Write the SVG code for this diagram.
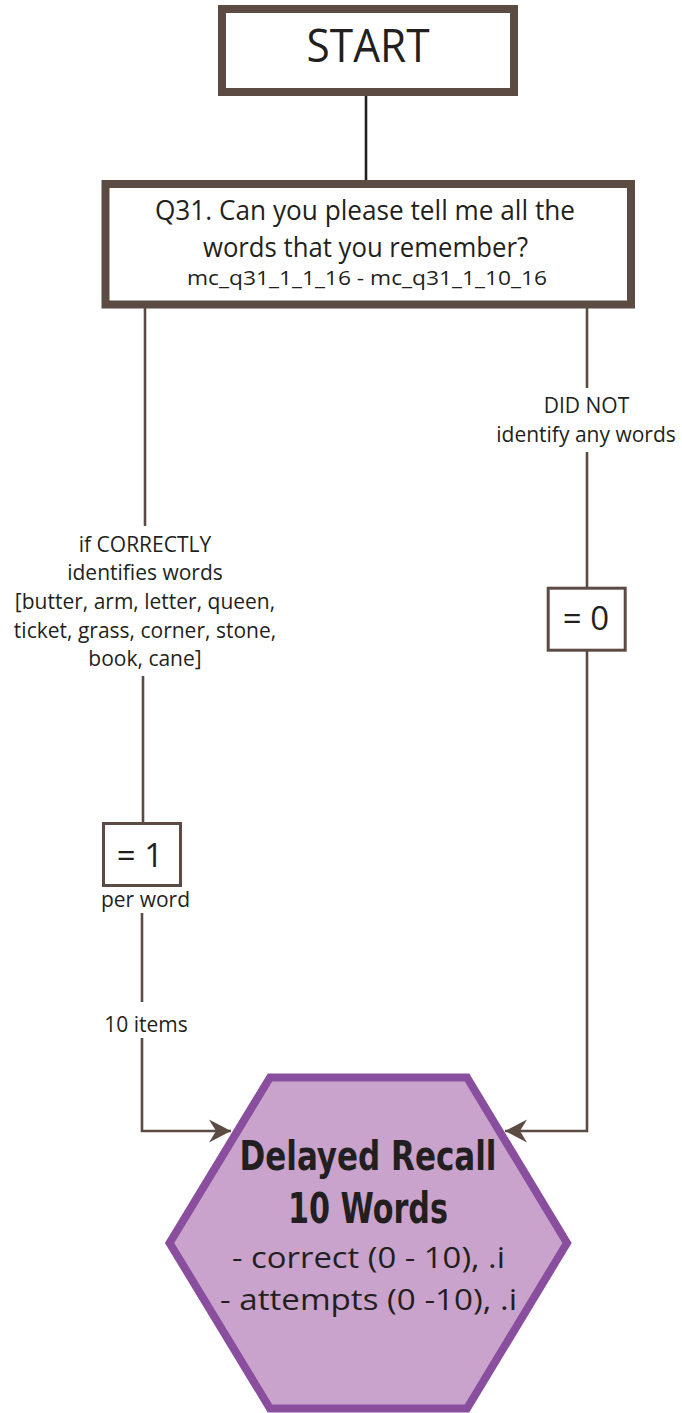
<svg xmlns="http://www.w3.org/2000/svg" width="682" height="1413" viewBox="0 0 682 1413">
<defs>
<style>
.box{fill:#ffffff;stroke:#5b4b43;}
.big{stroke-width:8;}
.small{stroke-width:3;}
.conn{fill:none;stroke:#5b4b43;stroke-width:2.6;}
.t{font-family:"Open Sans","Noto Sans","DejaVu Sans",sans-serif;fill:#231f20;text-anchor:middle;}
.lbl{font-size:21px;}
.hexT{font-family:"DejaVu Sans Condensed","Liberation Sans Narrow","DejaVu Sans",sans-serif;font-weight:bold;fill:#231f20;text-anchor:middle;}
</style>
<marker id="arr" markerUnits="userSpaceOnUse" markerWidth="24" markerHeight="24" refX="22" refY="12" orient="auto">
<path d="M22,12 L0,0.5 L7,12 L0,23.5 Z" fill="#5b4b43"/>
</marker>
</defs>

<g id="connectors">
<path d="M366,96 V181" fill="none" stroke="#231f20" stroke-width="2.6"/>
<path class="conn" d="M145,308 V526"/>
<path class="conn" d="M143,676 V822"/>
<path class="conn" d="M142,913 V1002"/>
<path class="conn" d="M142,1038 V1131 H231" marker-end="url(#arr)"/>
<path class="conn" d="M587,308 V388"/>
<path class="conn" d="M587,452 V588"/>
<path class="conn" d="M587,651 V1131 H505" marker-end="url(#arr)"/>
</g>

<g id="start">
<rect class="box big" x="222" y="9" width="292" height="83"/>
<text class="t" x="368" y="62" font-size="46" textLength="123" lengthAdjust="spacingAndGlyphs">START</text>
</g>

<g id="q31">
<rect class="box big" x="105.5" y="184" width="525.5" height="120.5"/>
<text class="t" x="365" y="220" font-size="27" textLength="420" lengthAdjust="spacingAndGlyphs">Q31. Can you please tell me all the</text>
<text class="t" x="365.5" y="257" font-size="27" textLength="325" lengthAdjust="spacingAndGlyphs">words that you remember?</text>
<text class="t" x="367" y="285" font-size="20" textLength="360" lengthAdjust="spacingAndGlyphs">mc_q31_1_1_16 - mc_q31_1_10_16</text>
</g>

<g id="label-correct">
<text class="t lbl" x="145" y="551.7">if CORRECTLY</text>
<text class="t lbl" x="145" y="580.3">identifies words</text>
<text class="t lbl" x="145" y="609">[butter, arm, letter, queen,</text>
<text class="t lbl" x="145" y="637.7">ticket, grass, corner, stone,</text>
<text class="t lbl" x="145" y="666.4">book, cane]</text>
</g>

<g id="eq1">
<rect class="box small" x="103.5" y="823.5" width="77" height="62"/>
<text class="t" x="140" y="867" font-size="33">= 1</text>
<text class="t lbl" x="145.5" y="907">per word</text>
</g>

<g id="label-items">
<text class="t lbl" x="146" y="1032">10 items</text>
</g>

<g id="label-not">
<text class="t lbl" x="586.5" y="413">DID NOT</text>
<text class="t lbl" x="586" y="441.7">identify any words</text>
</g>

<g id="eq0">
<rect class="box small" x="548.2" y="588.2" width="77" height="62"/>
<text class="t" x="586" y="630" font-size="33">= 0</text>
</g>

<g id="result">
<polygon points="270,1077.5 467,1077.5 567,1243 467,1408.5 270,1408.5 169.6,1243" fill="#c9a3cb" stroke="#8a4e9f" stroke-width="8"/>
<text class="hexT" x="368" y="1170" font-size="41" textLength="257" lengthAdjust="spacingAndGlyphs">Delayed Recall</text>
<text class="hexT" x="368" y="1223" font-size="42" textLength="160" lengthAdjust="spacingAndGlyphs">10 Words</text>
<text class="t" x="368.5" y="1268" font-size="30" textLength="273" lengthAdjust="spacingAndGlyphs">- correct (0 - 10), .i</text>
<text class="t" x="368.5" y="1310" font-size="30" textLength="297" lengthAdjust="spacingAndGlyphs">- attempts (0 -10), .i</text>
</g>
</svg>
